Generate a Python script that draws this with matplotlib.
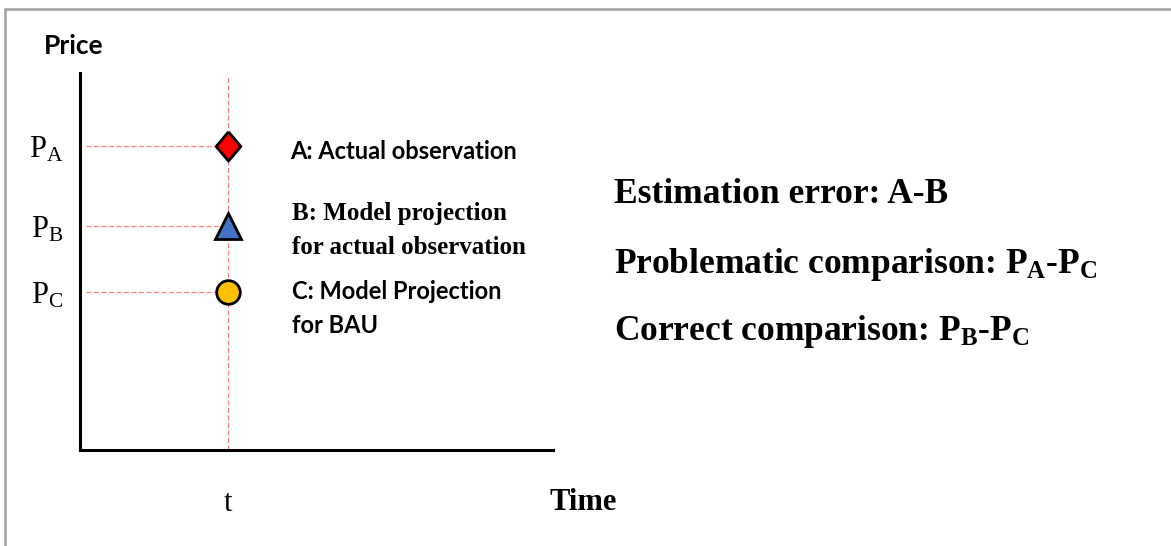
import matplotlib
matplotlib.use("Agg")
import matplotlib.pyplot as plt
from matplotlib.patches import Rectangle

# ---- data ----
points = ["A", "B", "C"]
prices = [8.06, 5.95, 4.2]          # P_A, P_B, P_C (arbitrary units)
t_pos = 3.13                        # time t
tick_labels = [r"$\mathrm{P}_\mathrm{A}$", r"$\mathrm{P}_\mathrm{B}$", r"$\mathrm{P}_\mathrm{C}$"]
diamond = [(0, 1), (0.85, 0), (0, -1), (-0.85, 0), (0, 1)]
markers = [diamond, "^", "o"]
colors = ["#FF0000", "#4472C4", "#FFC000"]
marker_sizes = [21, 18.5, 17]
point_labels = ["A: Actual observation",
                "B: Model projection\nfor actual observation",
                "C: Model Projection\nfor BAU"]
label_fonts = ["Lato", "Liberation Serif", "Lato"]
label_sizes = [17, 18, 17]
label_offsets = [(62, -5), (64, -5), (64, -17)]   # pixels
right_texts = [r"Estimation error: A-B",
               r"Problematic comparison: $\mathbf{P_A}$-$\mathbf{P_C}$",
               r"Correct comparison: $\mathbf{P_B}$-$\mathbf{P_C}$"]

plt.rcParams["mathtext.fontset"] = "custom"
plt.rcParams["mathtext.rm"] = "Liberation Serif"
plt.rcParams["mathtext.bf"] = "Liberation Serif:bold"
plt.rcParams["mathtext.it"] = "Liberation Serif:italic"

W, H = 1171, 546
fig = plt.figure(figsize=(W / 100, H / 100), dpi=100)
ax = fig.add_axes([80 / W, 1 - 450 / H, (553 - 80) / W, (450 - 73) / H])
ax.set_xlim(0, 10)
ax.set_ylim(0, 10)
for s in ["top", "right"]:
    ax.spines[s].set_visible(False)
for s in ["left", "bottom"]:
    ax.spines[s].set_linewidth(2.2)
    ax.spines[s].set_color("black")

dash_col = "#FF7C80"
ax.plot([t_pos, t_pos], [0, 9.92], color=dash_col, lw=0.9, ls=(0, (4, 2)), zorder=1)
for p, m, c, ms, lab, fnt, fs, off in zip(prices, markers, colors, marker_sizes,
                                           point_labels, label_fonts, label_sizes,
                                           label_offsets):
    ax.plot([0.12, t_pos], [p, p], color=dash_col, lw=0.9, ls=(0, (4, 2)), zorder=1)
    ax.plot([t_pos], [p], marker=m, ms=ms, color=c, mec="black", mew=2,
            zorder=3, linestyle="none")
    ax.annotate(lab, xy=(t_pos, p), xytext=off, textcoords="offset pixels",
                fontsize=fs, fontweight="bold", family=fnt, ha="left",
                va="center", linespacing=1.6)

ax.set_yticks(prices)
ax.set_yticklabels(tick_labels, fontsize=22)
ax.set_xticks([t_pos])
ax.set_xticklabels(["t"], family="Liberation Serif", fontsize=22)
ax.tick_params(axis="y", length=0, pad=12)
ax.tick_params(axis="x", length=0, pad=28)

ax.text(-0.076, 1.072, "Price", transform=ax.transAxes, fontsize=19,
        fontweight="bold", family="Lato", ha="left", va="center")
ax.text(0.993, -0.138, "Time", transform=ax.transAxes, fontsize=22,
        fontweight="bold", family="Liberation Serif", ha="left", va="center")

for i, (txt, yy) in enumerate(zip(right_texts, [194, 264, 331])):
    fig.text(614 / W, 1 - yy / H, txt, fontsize=25.5, fontweight="bold",
             family="Liberation Serif", ha="left", va="center")

fig.add_artist(Rectangle((5 / W, -0.2), 1.2, 1.2 - 9 / H, transform=fig.transFigure,
                         fill=False, edgecolor="#A0A0A0", lw=1.8, clip_on=False))

fig.savefig("out.png", dpi=100)
